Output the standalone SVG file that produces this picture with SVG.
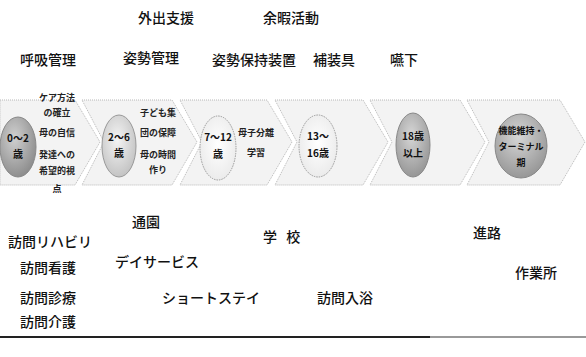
<svg xmlns="http://www.w3.org/2000/svg" width="586" height="357" viewBox="0 0 586 357">
<style>
.lbl{font-family:"Noto Sans CJK JP","Noto Sans",sans-serif;font-size:14px;fill:#111;font-weight:500}
.sm{font-family:"Noto Sans CJK JP","Noto Sans",sans-serif;font-size:9px;fill:#222;font-weight:700;text-anchor:middle}
.el{font-family:"Noto Sans CJK JP","Noto Sans",sans-serif;font-size:10px;fill:#111;font-weight:700;text-anchor:middle}
.chev{fill:#f3f3f3;stroke:#b8b8b8;stroke-width:1;stroke-dasharray:1 1}
</style>
<defs>
<radialGradient id="gDark" cx="0.4" cy="0.35" r="0.7">
<stop offset="0" stop-color="#d0d0d0"/><stop offset="1" stop-color="#8a8a8a"/>
</radialGradient>
<radialGradient id="gLight" cx="0.45" cy="0.4" r="0.7">
<stop offset="0" stop-color="#f4f4f4"/><stop offset="1" stop-color="#bcbcbc"/>
</radialGradient>
<radialGradient id="gWhite" cx="0.5" cy="0.45" r="0.7">
<stop offset="0" stop-color="#ffffff"/><stop offset="1" stop-color="#e6e6e6"/>
</radialGradient>
<radialGradient id="gMid" cx="0.45" cy="0.35" r="0.7">
<stop offset="0" stop-color="#d6d6d6"/><stop offset="1" stop-color="#929292"/>
</radialGradient>
</defs>

<g id="chevrons">
<polygon class="chev" points="0,100 75,100 100,142 75,185 0,185"/>
<polygon class="chev" points="82,100 172,100 197,142 172,185 82,185 104,142"/>
<polygon class="chev" points="180,100 267,100 292,142 267,185 180,185 202,142"/>
<polygon class="chev" points="275,100 363,100 388,142 363,185 275,185 297,142"/>
<polygon class="chev" points="370,100 460,100 485,142 460,185 370,185 392,142"/>
<polygon class="chev" points="467,100 560,100 585,142 560,185 467,185 489,142"/>
</g>

<g id="stage1">
<ellipse cx="18" cy="147" rx="18" ry="30" fill="url(#gDark)" stroke="#888" stroke-width="1"/>
<text class="el" x="18" y="142">0～2</text>
<text class="el" x="18" y="158">歳</text>
<text class="sm" x="57" y="101">ケア方法</text>
<text class="sm" x="57" y="116">の確立</text>
<text class="sm" x="57" y="136">母の自信</text>
<text class="sm" x="57" y="158">発達への</text>
<text class="sm" x="57" y="174">希望的視</text>
<text class="sm" x="57" y="192">点</text>
</g>

<g id="stage2">
<ellipse cx="119" cy="146" rx="17" ry="31" fill="url(#gLight)" stroke="#999" stroke-width="1"/>
<text class="el" x="119" y="141">2～6</text>
<text class="el" x="119" y="157">歳</text>
<text class="sm" x="158" y="116">子ども集</text>
<text class="sm" x="158" y="136">団の保障</text>
<text class="sm" x="158" y="158">母の時間</text>
<text class="sm" x="158" y="173">作り</text>
</g>

<g id="stage3">
<ellipse cx="218" cy="148" rx="18" ry="32" fill="url(#gWhite)" stroke="#999" stroke-width="1" stroke-dasharray="1.5 1"/>
<text class="el" x="218" y="141">7～12</text>
<text class="el" x="218" y="158">歳</text>
<text class="sm" x="256" y="136">母子分離</text>
<text class="sm" x="256" y="156">学習</text>
</g>

<g id="stage4">
<ellipse cx="318" cy="146" rx="19" ry="31" fill="url(#gWhite)" stroke="#999" stroke-width="1" stroke-dasharray="1.5 1"/>
<text class="el" x="318" y="140">13～</text>
<text class="el" x="318" y="157">16歳</text>
</g>

<g id="stage5">
<ellipse cx="413" cy="145" rx="17" ry="32" fill="url(#gMid)" stroke="#888" stroke-width="1"/>
<text class="el" x="413" y="140">18歳</text>
<text class="el" x="413" y="157">以上</text>
</g>

<g id="stage6">
<ellipse cx="521" cy="146" rx="26" ry="32" fill="url(#gMid)" stroke="#888" stroke-width="1"/>
<text class="el" x="521" y="134" style="font-size:9px">機能維持・</text>
<text class="el" x="521" y="150" style="font-size:9px">ターミナル</text>
<text class="el" x="521" y="166" style="font-size:9px">期</text>
</g>

<g id="labels">
<text class="lbl" x="138" y="23">外出支援</text>
<text class="lbl" x="263" y="23">余暇活動</text>
<text class="lbl" x="20" y="65">呼吸管理</text>
<text class="lbl" x="123" y="63">姿勢管理</text>
<text class="lbl" x="212" y="65">姿勢保持装置</text>
<text class="lbl" x="313" y="65">補装具</text>
<text class="lbl" x="390" y="65">嚥下</text>
<text class="lbl" x="132" y="227">通園</text>
<text class="lbl" x="8" y="247">訪問リハビリ</text>
<text class="lbl" x="263" y="242" style="word-spacing:6px">学 校</text>
<text class="lbl" x="473" y="238">進路</text>
<text class="lbl" x="115" y="267">デイサービス</text>
<text class="lbl" x="20" y="273">訪問看護</text>
<text class="lbl" x="515" y="278">作業所</text>
<text class="lbl" x="20" y="303">訪問診療</text>
<text class="lbl" x="162" y="303">ショートステイ</text>
<text class="lbl" x="317" y="303">訪問入浴</text>
<text class="lbl" x="20" y="327">訪問介護</text>
</g>

<g id="rule">
<line x1="0" y1="337" x2="430" y2="337" stroke="#222" stroke-width="2"/>
<line x1="430" y1="337" x2="586" y2="337" stroke="#999" stroke-width="2"/>
</g>
</svg>
